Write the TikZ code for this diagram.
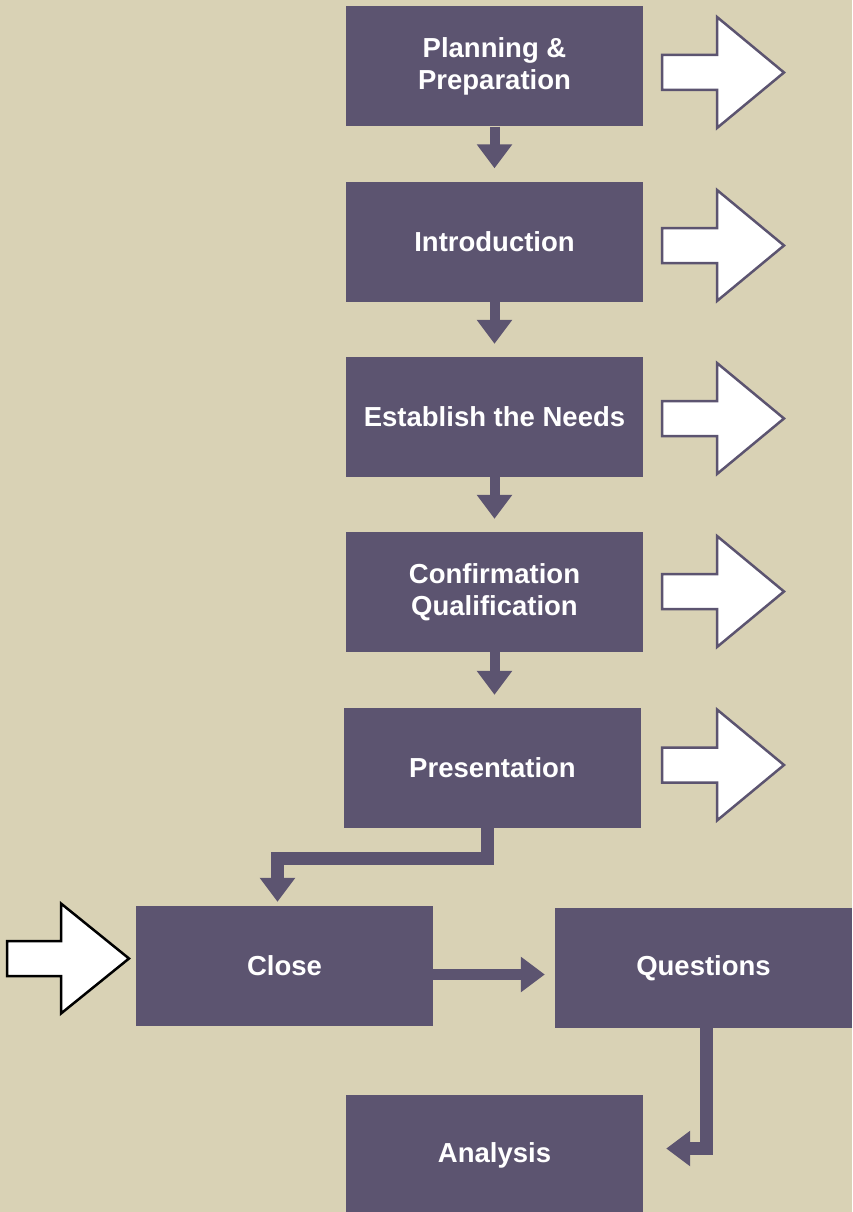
\documentclass[tikz,border=0pt]{standalone}
\usepackage{fontspec}
\setmainfont{Liberation Sans}
\usetikzlibrary{arrows.meta,calc}
\definecolor{bgcol}{RGB}{217,210,181}
\definecolor{boxcol}{RGB}{92,84,112}
\begin{document}
\begin{tikzpicture}[x=1pt,y=-1pt,
  stagebox/.style={fill=boxcol, minimum width=297pt, minimum height=120pt, inner sep=0pt,
    text=white, align=center, font=\fontsize{27.5}{32}\selectfont\bfseries},
  conn/.style={draw=boxcol, line width=#1, line join=miter, line cap=butt,
    -{Triangle[width=34pt,length=24pt]}},
  conn/.default=11pt,
  blockarrow/.pic={\path[pic actions] (0,-17.5) -- (55,-17.5) -- (55,-55.5) -- (122,0) -- (55,55.5) -- (55,17.5) -- (0,17.5) -- cycle;},
  leftblock/.pic={\path[pic actions] (0,-17.5) -- (54,-17.5) -- (54,-55) -- (122,0) -- (54,55) -- (54,17.5) -- (0,17.5) -- cycle;},
  outarrow/.style={draw=boxcol, fill=white, line width=2.5pt, line join=miter},
  inarrow/.style={draw=black, fill=white, line width=2.5pt, line join=miter}]
\useasboundingbox (0,0) rectangle (852,1212);
\fill[bgcol] (0,0) rectangle (852,1212);

\node[stagebox] (b1) at (494.5,66.5) {Planning \&\\Preparation};
\node[stagebox] (b2) at (494.5,241.5) {Introduction};
\node[stagebox] (b3) at (494.5,417) {Establish the Needs};
\node[stagebox] (b4) at (494.5,592) {Confirmation\\Qualification};
\node[stagebox] (b5) at (492.5,768) {Presentation};
\node[stagebox] (b6) at (284.5,966) {Close};
\node[stagebox] (b7) at (703.5,968) {Questions};
\node[stagebox] (b8) at (494.5,1155) {Analysis};

\draw[conn=10pt] (b1.south) -- ([yshift=13pt]b2.north);
\draw[conn=10pt] (b2.south) -- ([yshift=13pt]b3.north);
\draw[conn=10pt] (b3.south) -- ([yshift=13pt]b4.north);
\draw[conn=10pt] (b4.south) -- ([yshift=13pt]b4.south |- b5.north);
\draw[conn=13pt] ([xshift=-5.5pt]b5.south) -- ++(0,30.5) -| ([xshift=-7pt,yshift=4pt]b6.north);
\draw[conn=11pt] ($(b6.east)+(0,8.5)$) -- ($(b7.west|-b6.east)+(-10,8.5)$);
\draw[conn=13pt] ([xshift=2.5pt]b7.south) |- ($(b8.east)+(23,-6.5)$);

\pic[outarrow] at (662,72.5) {blockarrow};
\pic[outarrow] at (662,245.5) {blockarrow};
\pic[outarrow] at (662,418.5) {blockarrow};
\pic[outarrow] at (662,591.5) {blockarrow};
\pic[outarrow] at (662,765) {blockarrow};
\pic[inarrow] at (7,958.5) {leftblock};
\end{tikzpicture}
\end{document}
